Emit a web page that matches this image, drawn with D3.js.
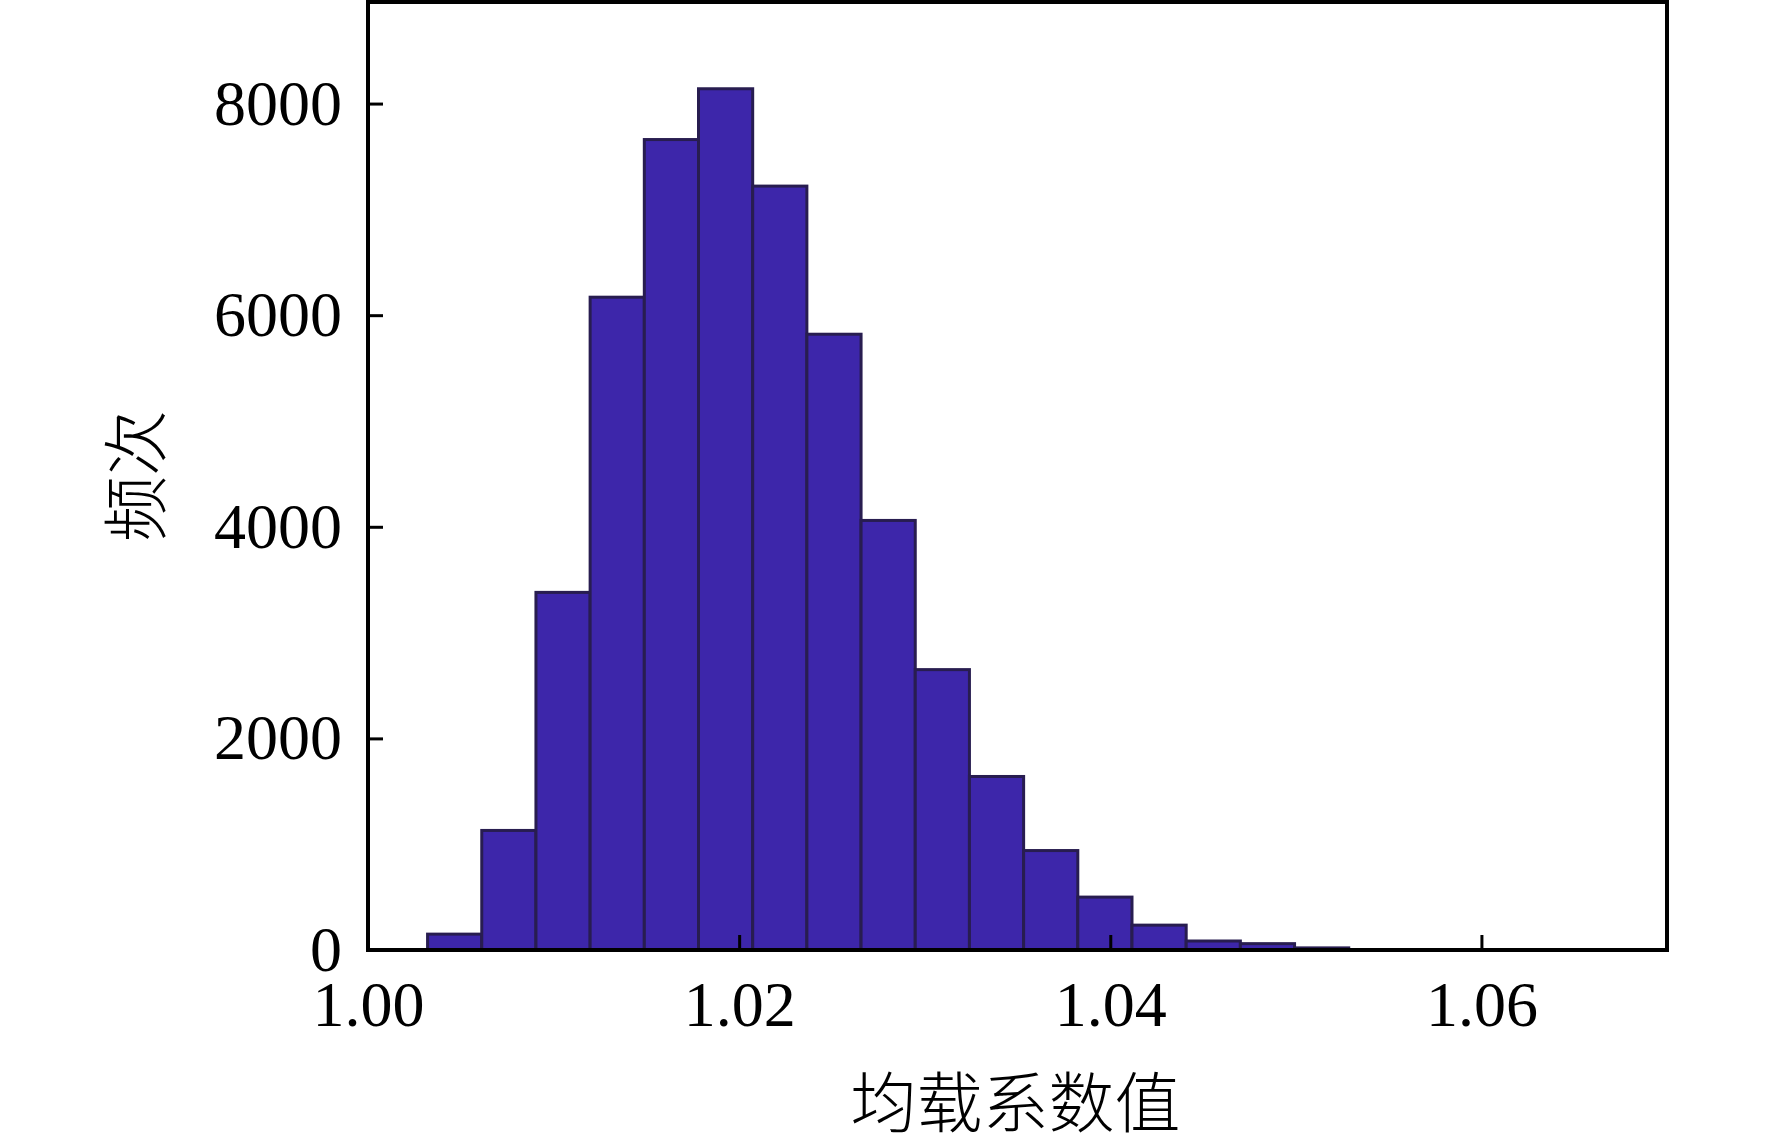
<!DOCTYPE html>
<html>
<head>
<meta charset="utf-8">
<script src="https://cdn.jsdelivr.net/npm/d3@7"></script>
<style>
  body { margin: 0; background: #fff; }
  svg { display: block; }
</style>
</head>
<body>
<svg id="chart"></svg>
<script>
// histogram bin edges (均载系数值) and counts (频次)
var binEdges = [1.00321, 1.00613, 1.00905, 1.01197, 1.01489, 1.01781, 1.02073, 1.02365,
  1.02657, 1.02949, 1.03241, 1.03533, 1.03825, 1.04117, 1.04409, 1.04701, 1.04993, 1.05285];
var counts = [150, 1130, 3380, 6170, 7660, 8140, 7220, 5820, 4060, 2650, 1640, 940, 500,
  235, 85, 60, 20];
var xTicks = [1.00, 1.02, 1.04, 1.06];
var yTicks = [0, 2000, 4000, 6000, 8000];
var xLabel = "均载系数值";
var yLabel = "频次";

var width = 1772, height = 1148;
var plot = { left: 368, right: 1667, top: 2, bottom: 950 };
var BAR_FILL = "#3d26aa";
var BAR_EDGE = "#281d50";
var SERIF = "'Liberation Serif', 'Times New Roman', serif";

var svg = d3.select("#chart").attr("width", width).attr("height", height);
svg.append("rect").attr("width", width).attr("height", height).attr("fill", "#fff");

var xscale = d3.scaleLinear().domain([1.00, 1.07]).range([plot.left, plot.right]);
var yscale = d3.scaleLinear().domain([0, 8960]).range([plot.bottom, plot.top]);

var bins = counts.map(function (c, i) {
  return { x0: binEdges[i], x1: binEdges[i + 1], n: c };
});

svg.append("g")
  .selectAll("rect")
  .data(bins)
  .enter()
  .append("rect")
  .attr("x", function (d) { return xscale(d.x0); })
  .attr("y", function (d) { return yscale(d.n); })
  .attr("width", function (d) { return xscale(d.x1) - xscale(d.x0); })
  .attr("height", function (d) { return yscale(0) - yscale(d.n); })
  .attr("fill", BAR_FILL)
  .attr("stroke", BAR_EDGE)
  .attr("stroke-width", 3);

// axes, ticks pointing inward
var xaxis = d3.axisBottom(xscale)
  .tickValues(xTicks)
  .tickFormat(d3.format(".2f"))
  .tickSizeInner(-15)
  .tickSizeOuter(0)
  .tickPadding(31);
var gx = svg.append("g")
  .attr("transform", "translate(0," + plot.bottom + ")")
  .call(xaxis);

var yaxis = d3.axisLeft(yscale)
  .tickValues(yTicks)
  .tickFormat(d3.format("d"))
  .tickSizeInner(-15)
  .tickSizeOuter(0)
  .tickPadding(26);
var gy = svg.append("g")
  .attr("transform", "translate(" + plot.left + ",0)")
  .call(yaxis);

[gx, gy].forEach(function (g) {
  g.attr("font-family", SERIF).attr("font-size", 64);
  g.select(".domain").remove();
  g.selectAll(".tick line").attr("stroke", "#000").attr("stroke-width", 3);
  g.selectAll(".tick text").attr("fill", "#000");
});

// frame
svg.append("rect")
  .attr("x", plot.left)
  .attr("y", plot.top)
  .attr("width", plot.right - plot.left)
  .attr("height", plot.bottom - plot.top)
  .attr("fill", "none")
  .attr("stroke", "#000")
  .attr("stroke-width", 4);

// axis titles
svg.append("text")
  .attr("text-anchor", "middle")
  .attr("x", (plot.left + plot.right) / 2 - 2)
  .attr("y", 1127)
  .style("font-family", "'Noto Sans CJK SC', sans-serif")
  .style("font-size", "66px")
  .style("font-weight", 300)
  .attr("fill", "#000")
  .text(xLabel);

svg.append("text")
  .attr("text-anchor", "middle")
  .attr("transform", "translate(" + 160 + "," + 476 + ")rotate(-90)")
  .style("font-family", "'Noto Sans CJK SC', sans-serif")
  .style("font-size", "66px")
  .style("font-weight", 300)
  .attr("fill", "#000")
  .text(yLabel);
</script>
</body>
</html>
